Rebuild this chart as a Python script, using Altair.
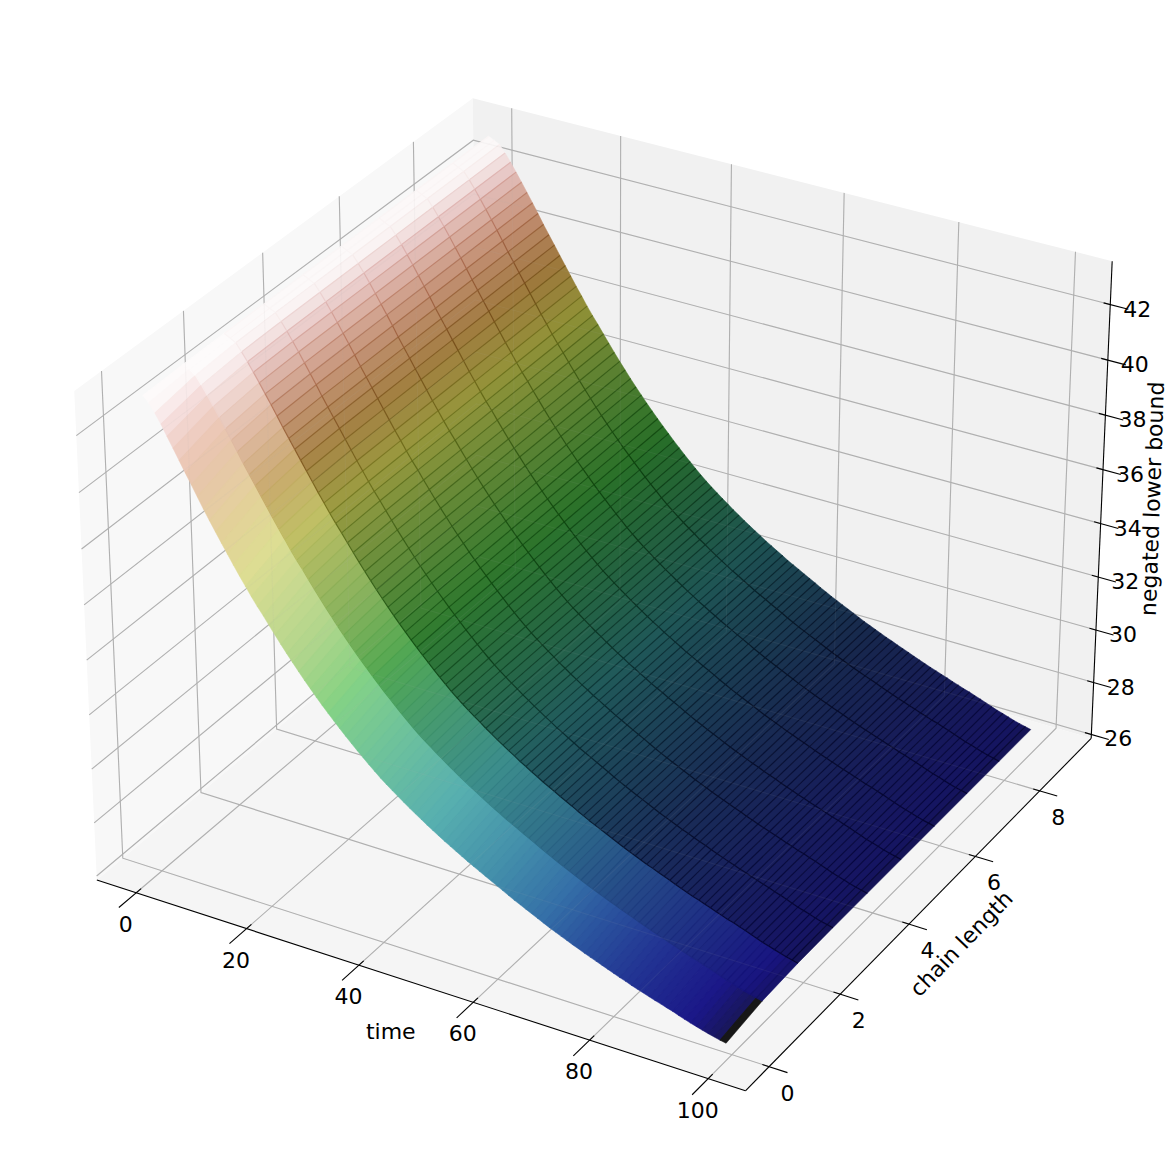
import numpy as np
import altair as alt

# ---- data ----
TIME = list(range(100))
CHAIN = list(range(10))
# negated lower bound at chain length 0, one value per time step
BOUND = [43.10,42.90,42.60,42.27,41.90,41.54,41.17,40.80,40.44,40.07,
         39.70,39.35,39.01,38.67,38.34,38.01,37.69,37.38,37.07,36.78,
         36.51,36.22,35.94,35.66,35.39,35.13,34.87,34.62,34.38,34.14,
         33.91,33.69,33.47,33.26,33.05,32.85,32.65,32.46,32.27,32.09,
         31.91,31.75,31.59,31.44,31.29,31.14,31.00,30.86,30.72,30.59,
         30.46,30.33,30.21,30.09,29.97,29.85,29.74,29.63,29.52,29.41,
         29.30,29.19,29.08,28.97,28.87,28.77,28.67,28.57,28.47,28.37,
         28.28,28.19,28.10,28.01,27.93,27.84,27.76,27.68,27.60,27.52,
         27.44,27.36,27.29,27.21,27.14,27.07,27.00,26.93,26.87,26.80,
         26.74,26.66,26.59,26.52,26.46,26.40,26.34,26.29,26.24,26.20]
# rise of the bound from chain length 0 to the longest chains, per time step
RISE = [.05,.15,.35,.42,.50,.55,.60,.64,.67,.70,
        .72,.74,.75,.76,.76,.76,.75,.75,.74,.73,
        .72,.71,.70,.69,.68,.67,.66,.65,.64,.63,
        .62,.61,.60,.59,.58,.57,.56,.55,.54,.53,
        .53,.52,.52,.51,.51,.50,.50,.49,.49,.48,
        .48,.47,.47,.46,.46,.45,.45,.45,.44,.44,
        .44,.43,.43,.43,.43,.43,.43,.43,.43,.43,
        .43,.43,.43,.43,.43,.43,.43,.43,.42,.42,
        .42,.42,.42,.42,.42,.41,.41,.40,.40,.39,
        .38,.38,.37,.36,.36,.35,.34,.33,.33,.32]
CHAIN_SHARE = [0, .7, .95, 1, 1, 1, 1, 1, 1, 1]
TIME_TICKS = [0, 20, 40, 60, 80, 100]
CHAIN_TICKS = [0, 2, 4, 6, 8]
BOUND_TICKS = [26, 28, 30, 32, 34, 36, 38, 40, 42]
BAND_GAMMA = [0.55, 1.0, 1.65, 1.72, 1.76, 1.8, 1.84, 1.88, 1.92]
BAND_GAMMA_LOW = [1.0, 1.0, 1.3, 1.3, 1.3, 1.3, 1.3, 1.3, 1.3]
BAND_LIFT = [0.09, 0.08, 0.08, 0.08, 0.08, 0.08, 0.08, 0.08, 0.08]
BAND_SAT = [1.25, 1.1, 1, 1, 1, 1, 1, 1, 1]
TIME_SEAM = [1.02, 1.1, 1.45, 1.45, 1.45, 1.45, 1.45, 1.45, 1.45]

XL, YL, ZL = (-7.22, 106.22), (-0.65, 9.65), (25.85, 43.55)

# 3D view of the box: elevation 30, azimuth -60, aspect 4:4:3, distance 10
ELEV, AZIM, DIST = np.radians(30), np.radians(-60), 10.0
BOX = np.array([4.0, 4.0, 3.0])*1.8294640721620434/np.linalg.norm([4.0, 4.0, 3.0])
W_ = np.array([np.cos(ELEV)*np.cos(AZIM), np.cos(ELEV)*np.sin(AZIM), np.sin(ELEV)])
EYE = BOX/2 + DIST*W_
U_ = np.cross([0, 0, 1.0], W_); U_ /= np.linalg.norm(U_)
V_ = np.cross(W_, U_)


def view(x, y, z):
    p = np.array([(x-XL[0])/(XL[1]-XL[0]), (y-YL[0])/(YL[1]-YL[0]), (z-ZL[0])/(ZL[1]-ZL[0])])*BOX - EYE
    d = -np.dot(W_, p)
    return np.dot(U_, p)/d, np.dot(V_, p)/d


# page pixels of the box corners, to place the view on the page
CAL = [
    (XL[0], YL[0], ZL[0], 96.7, 879.3), (XL[1], YL[0], ZL[0], 745.7, 1091.7),
    (XL[1], YL[1], ZL[0], 1090.7, 738.3), (XL[0], YL[0], ZL[1], 74.0, 390.0),
    (XL[0], YL[1], ZL[1], 473.3, 99.3), (XL[1], YL[1], ZL[1], 1112.3, 261.0),
]
_v = np.array([view(*c[:3]) for c in CAL])
_u = np.array([c[3] for c in CAL])
_w = np.array([c[4] for c in CAL])
SX = np.polyfit(_v[:, 0], _u, 1)
SY = np.polyfit(_v[:, 1], _w, 1)


def pr(x, y, z):
    a, b = view(x, y, z)
    return [float(SX[0]*a+SX[1]) - 8, float(SY[0]*b+SY[1]) - 8]


# gist_earth
R = [(0, 0), (.2824, .1882), (.4588, .2714), (.5490, .4719), (.6980, .7176), (.7882, .7553), (1, .9922)]
G = [(0, 0), (.0275, 0), (.1098, .1893), (.1647, .3035), (.2078, .3841), (.2824, .5020), (.5216, .6397),
     (.6980, .7171), (.7882, .6392), (.8157, .6549), (.8667, .6991), (.8980, .7430), (.9412, .8275),
     (.9647, .8816), (.9961, .9733), (1, .9843)]
Bl = [(0, 0), (.0039, .1684), (.0078, .2212), (.0275, .4329), (.0314, .4549), (.2824, .5004), (.4667, .2748),
      (.5451, .3205), (.7843, .3961), (.8941, .6651), (1, .9843)]


def cmap(n):
    return [float(np.interp(n, [p[0] for p in ch], [p[1] for p in ch])) for ch in (R, G, Bl)]


def hexc(c):
    return '#%02x%02x%02x' % tuple(int(round(255*min(1, max(0, v)))) for v in c)


def Z(i, j):
    return BOUND[i] + RISE[i]*CHAIN_SHARE[j]


def zmean(i, j):
    return (Z(i, j) + Z(i+1, j) + Z(i, j+1) + Z(i+1, j+1))/4


_all = [zmean(i, j) for i in range(99) for j in range(9)]
zlo, zhi = min(_all), max(_all)


def facecol(i, j):
    n = (zmean(i, j) - zlo)/(zhi - zlo)
    if n > 0:
        n = min(1.0, n + 0.012)
    w = min(1.0, n/0.15)
    gm = BAND_GAMMA[j]
    if j == 0:
        gm = gm + .2*max(0.0, (.45-n)/.3) + .7*max(0.0, (n-.8)/.2)
    g = BAND_GAMMA_LOW[j] + (gm - BAND_GAMMA_LOW[j])*w
    L = BAND_LIFT[j]
    c = [v**g for v in cmap(n)]
    m = sum(c)/3
    s = 1 + (BAND_SAT[j] - 1)*w
    c = [min(1.0, max(0.0, m + (v-m)*s)) for v in c]
    return [L + (1-L)*v for v in c]


def feat(kind, coords, **props):
    return {"type": "Feature", "geometry": {"type": kind, "coordinates": coords}, "properties": props}


PROJ = dict(type="identity", scale=1, translate=[0, 0])


def lines(feats, width, color=None, opacity=1):
    ch = alt.Chart(alt.Data(values=feats)).mark_geoshape(filled=False, strokeWidth=width, strokeOpacity=opacity, **({"stroke": color} if color else {}))
    if not color:
        ch = ch.encode(stroke=alt.Stroke("properties.c:N", scale=None))
    return ch.project(**PROJ)


# panes
panes = [
    feat("Polygon", [[pr(XL[0], YL[0], ZL[0]), pr(XL[0], YL[1], ZL[0]), pr(XL[0], YL[1], ZL[1]), pr(XL[0], YL[0], ZL[1]), pr(XL[0], YL[0], ZL[0])]], c="#f8f8f8"),
    feat("Polygon", [[pr(XL[0], YL[1], ZL[0]), pr(XL[1], YL[1], ZL[0]), pr(XL[1], YL[1], ZL[1]), pr(XL[0], YL[1], ZL[1]), pr(XL[0], YL[1], ZL[0])]], c="#f1f1f1"),
    feat("Polygon", [[pr(XL[0], YL[0], ZL[0]), pr(XL[1], YL[0], ZL[0]), pr(XL[1], YL[1], ZL[0]), pr(XL[0], YL[1], ZL[0]), pr(XL[0], YL[0], ZL[0])]], c="#f5f5f5"),
]
pane_layer = alt.Chart(alt.Data(values=panes)).mark_geoshape(strokeWidth=0).encode(fill=alt.Fill("properties.c:N", scale=None)).project(**PROJ)

# grid
grid = []
for t in TIME_TICKS:
    grid.append(feat("LineString", [pr(t, YL[0], ZL[0]), pr(t, YL[1], ZL[0]), pr(t, YL[1], ZL[1])]))
for c in CHAIN_TICKS:
    grid.append(feat("LineString", [pr(XL[1], c, ZL[0]), pr(XL[0], c, ZL[0]), pr(XL[0], c, ZL[1])]))
for b in BOUND_TICKS:
    grid.append(feat("LineString", [pr(XL[1], YL[1], b), pr(XL[0], YL[1], b), pr(XL[0], YL[0], b)]))
grid_layer = lines(grid, 1.1, "#b0b0b0")
grid_over = lines(grid, 1.1, "#b0b0b0", 0.08)

# surface
faces, seams = [], []
for i in range(99):
    for j in range(8, -1, -1):
        col = facecol(i, j)
        ring = [pr(TIME[i], CHAIN[j], Z(i, j)), pr(TIME[i+1], CHAIN[j], Z(i+1, j)), pr(TIME[i+1], CHAIN[j+1], Z(i+1, j+1)),
                pr(TIME[i], CHAIN[j+1], Z(i, j+1)), pr(TIME[i], CHAIN[j], Z(i, j))]
        faces.append(feat("Polygon", [ring], c=hexc(col)))
        seams.append(feat("LineString", [pr(TIME[i], CHAIN[j], Z(i, j)), pr(TIME[i], CHAIN[j+1], Z(i, j+1))],
                          c=hexc([v**TIME_SEAM[j] for v in col])))
chain_seams = []
for j in range(1, 9):
    for i in range(99):
        col = facecol(i, j)
        ex = 1.05 if j == 1 else 1.6
        chain_seams.append(feat("LineString", [pr(TIME[i], CHAIN[j], Z(i, j)), pr(TIME[i+1], CHAIN[j], Z(i+1, j))],
                                c=hexc([v**ex for v in col])))
surface = alt.Chart(alt.Data(values=faces)).mark_geoshape(strokeWidth=0.5).encode(
    fill=alt.Fill("properties.c:N", scale=None), stroke=alt.Stroke("properties.c:N", scale=None)).project(**PROJ)
seam_layer = lines(seams, 1.15)
chain_layer = lines(chain_seams, 1.2)

# axes and ticks
axes = [
    feat("LineString", [pr(XL[0], YL[0], ZL[0]), pr(XL[1], YL[0], ZL[0])]),
    feat("LineString", [pr(XL[1], YL[0], ZL[0]), pr(XL[1], YL[1], ZL[0])]),
    feat("LineString", [pr(XL[1], YL[1], ZL[0]), pr(XL[1], YL[1], ZL[1])]),
]
dx, dy = XL[1] - XL[0], YL[1] - YL[0]
for t in TIME_TICKS:
    axes.append(feat("LineString", [pr(t, YL[0] + .012*dy, ZL[0]), pr(t, YL[0] - .042*dy, ZL[0])]))
for c in CHAIN_TICKS:
    axes.append(feat("LineString", [pr(XL[1] - .010*dx, c, ZL[0]), pr(XL[1] + .027*dx, c, ZL[0])]))
for b in BOUND_TICKS:
    axes.append(feat("LineString", [pr(XL[1] - .010*dx, YL[1], b), pr(XL[1] + .027*dx, YL[1], b)]))
axis_layer = lines(axes, 1.1, "#000000")

# labels
lab = []
for t in TIME_TICKS:
    u, v = pr(t, YL[0], ZL[0]); lab.append(dict(x=u - 10.5, y=v + 32, s=str(t)))
for c in CHAIN_TICKS:
    u, v = pr(XL[1], c, ZL[0]); lab.append(dict(x=u + 18.5, y=v + 27, s=str(c)))
for b in BOUND_TICKS:
    u, v = pr(XL[1], YL[1], b); lab.append(dict(x=u + 27, y=v + 5, s=str(b)))
tick_text = alt.Chart(alt.Data(values=lab)).mark_text(font="DejaVu Sans", fontSize=22, color="#000000", align="center", baseline="middle").encode(
    longitude="x:Q", latitude="y:Q", text="s:N").project(**PROJ)

TXT = dict(font="DejaVu Sans", fontSize=22, color="#000000", align="center", baseline="middle")
u, v = pr(50, YL[0], ZL[0])
t1 = alt.Chart(alt.Data(values=[dict(x=u - 25, y=v + 48, s="time")])).mark_text(**TXT).encode(longitude="x:Q", latitude="y:Q", text="s:N").project(**PROJ)
u, v = pr(XL[1], 4.5, ZL[0])
t2 = alt.Chart(alt.Data(values=[dict(x=u + 36, y=v + 37, s="chain length")])).mark_text(angle=314, **TXT).encode(longitude="x:Q", latitude="y:Q", text="s:N").project(**PROJ)
u, v = pr(XL[1], YL[1], 34.7)
t3 = alt.Chart(alt.Data(values=[dict(x=u + 51.5, y=v - 6, s="negated lower bound")])).mark_text(angle=272, **TXT).encode(longitude="x:Q", latitude="y:Q", text="s:N").project(**PROJ)

chart = alt.layer(pane_layer, grid_layer, surface, seam_layer, chain_layer, grid_over, axis_layer, tick_text, t1, t2, t3).properties(
    width=1159, height=1140, padding=0
).configure_view(stroke=None)
chart.save("out.html", embed_options={"renderer": "svg", "actions": False})
